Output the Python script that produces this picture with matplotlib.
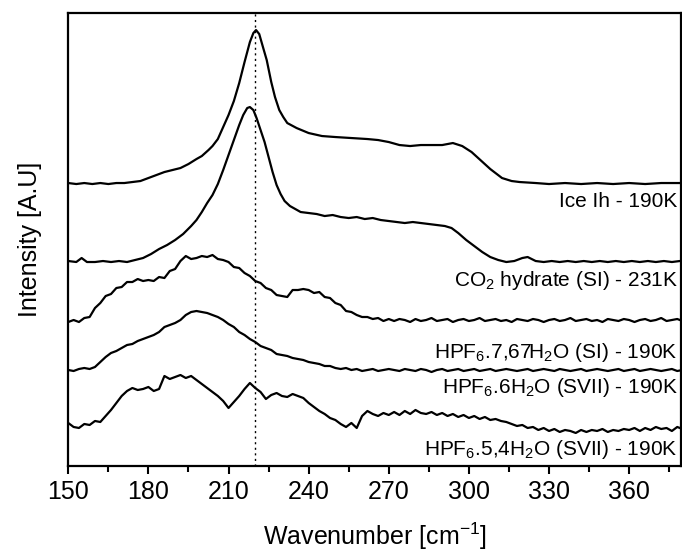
import matplotlib
matplotlib.use("Agg")
import matplotlib.pyplot as plt
import matplotlib.transforms as mtransforms
from matplotlib.ticker import MultipleLocator
import numpy as np

# Ice Ih - 190K
ice_wn = [150, 153, 156, 159, 162, 165, 168, 171, 174, 177, 180, 183, 186, 189, 192, 195,
          198, 200, 202.5, 204, 206, 208, 210, 212, 214, 216, 218, 219.3, 220.3, 221.5, 223,
          224.3, 226, 227.4, 229, 230.5, 232, 235.5, 240, 245, 250, 256, 262, 266, 270, 274,
          278, 282, 286, 290, 294, 297.5, 301, 304.3, 308, 312.4, 316, 319, 325, 330, 336,
          342, 348, 354, 360, 366, 372, 379]
ice_int = [283, 282, 283, 282, 283, 282, 283, 283, 284, 285, 288, 291, 294, 296, 298, 302,
           307, 310, 316, 320, 327, 339, 351, 365, 383, 404, 424, 433, 436, 432, 418,
           406, 384, 369, 356, 349, 343, 338, 333, 330, 329, 328, 327, 326, 324, 321,
           320, 321, 321, 321, 323, 320, 314, 306, 297, 288, 285, 284, 283, 282, 283,
           282, 283, 282, 283, 282, 283, 283]

# CO2 hydrate (SI) - 231K
co2_wn = [150, 153, 155, 157, 160, 163, 166, 169, 172, 175, 178, 181, 184, 187, 190, 193,
          196, 198, 200, 202, 204, 206, 208, 210, 212, 214, 215.5, 217, 218, 219.3, 220.5,
          222, 223.5, 225, 226.5, 228, 229.5, 231, 233, 235, 237, 240, 243, 246, 249, 252,
          255, 258, 261, 264, 267, 270, 273, 276, 279, 282, 285, 288, 291, 293.5, 296, 299,
          302, 305, 308, 311, 314, 317, 320, 322, 325, 328, 331, 334, 337, 340, 343, 346,
          349, 352, 355, 358, 361, 364, 367, 370, 373, 376, 379]
co2_int = [205, 204, 208, 204, 204, 205, 204, 205, 204, 206, 208, 212, 217, 221, 226, 232,
           240, 246, 254, 263, 271, 282, 296, 311, 326, 341, 351, 358, 359, 356, 348,
           336, 324, 309, 294, 281, 272, 265, 260, 257, 254, 253, 252, 250, 251, 249,
           248, 249, 247, 248, 246, 245, 244, 243, 244, 243, 242, 241, 240, 238, 233, 226,
           220, 214, 209, 206, 204, 205, 208, 209, 205, 204, 205, 204, 205, 204, 205, 204,
           205, 204, 205, 204, 205, 204, 205, 204, 205, 204, 205]

# the three HPF6 hydrates share one wavenumber grid
hpf_wn = np.arange(150, 382, 2)

hpf767_int = [144, 146, 144, 148, 149, 158, 163, 170,
              172, 178, 179, 184, 184, 187, 185, 186,
              185, 189, 188, 195, 197, 205, 210, 207,
              208, 210, 209, 211, 207, 206, 204, 199,
              198, 193, 190, 185, 183, 178, 176, 171,
              170, 169, 176, 176, 177, 176, 173, 174,
              169, 168, 163, 161, 155, 154, 151, 149,
              149, 147, 148, 145, 147, 145, 147, 146,
              144, 147, 145, 146, 148, 145, 146, 147,
              144, 146, 147, 145, 146, 148, 145, 146,
              147, 145, 146, 144, 147, 146, 145, 147,
              146, 144, 146, 147, 145, 146, 148, 145,
              146, 147, 145, 146, 144, 147, 146, 145,
              147, 146, 144, 146, 147, 145, 146, 148,
              145, 146, 147, 145]

hpf6_int = [96, 95, 97, 98, 97, 99, 104, 109,
            113, 115, 118, 121, 122, 125, 127, 129,
            131, 134, 139, 141, 143, 146, 151, 154,
            155, 154, 153, 151, 149, 146, 142, 139,
            134, 131, 127, 124, 120, 118, 116, 112,
            111, 110, 108, 107, 106, 104, 103, 102,
            100, 100, 98, 97, 98, 96, 97, 95,
            96, 97, 95, 96, 97, 96, 95, 97,
            96, 95, 97, 96, 94, 96, 97, 95,
            96, 97, 95, 96, 97, 95, 96, 97,
            95, 96, 97, 96, 95, 96, 97, 95,
            96, 97, 96, 95, 97, 96, 95, 96,
            97, 95, 96, 97, 96, 95, 96, 97,
            95, 96, 97, 95, 96, 97, 96, 95,
            96, 97, 95, 96]

hpf54_int = [43, 39, 38, 42, 41, 45, 44, 50,
             56, 63, 70, 75, 78, 76, 77, 79,
             75, 77, 90, 87, 89, 91, 88, 90,
             86, 82, 78, 74, 70, 65, 58, 64,
             70, 77, 83, 78, 74, 67, 71, 73,
             70, 69, 72, 70, 68, 63, 59, 55,
             52, 48, 46, 42, 39, 43, 38, 50,
             55, 52, 50, 53, 51, 54, 51, 55,
             52, 56, 53, 52, 54, 51, 53, 50,
             52, 49, 51, 48, 50, 47, 49, 46,
             47, 45, 44, 42, 40, 41, 38, 39,
             36, 38, 35, 37, 34, 36, 35, 33,
             36, 34, 36, 35, 37, 34, 36, 35,
             37, 36, 38, 35, 38, 36, 39, 37,
             38, 35, 39, 37]

labels = [
    "Ice Ih - 190K",
    "CO$_{2}$ hydrate (SI) - 231K",
    "HPF$_{6}$.7,67H$_{2}$O (SI) - 190K",
    "HPF$_{6}$.6H$_{2}$O (SVII) - 190K",
    "HPF$_{6}$.5,4H$_{2}$O (SVII) - 190K",
]
label_y = [259, 180, 108, 73, 11]

ref_line = 220


def main():
    plt.rcParams["font.family"] = ["Liberation Sans", "DejaVu Sans"]
    plt.rcParams["mathtext.fontset"] = "custom"
    plt.rcParams["mathtext.rm"] = "Liberation Sans"
    plt.rcParams["mathtext.it"] = "Liberation Sans"
    plt.rcParams["mathtext.default"] = "regular"

    fig = plt.figure(figsize=(6.82, 5.51), dpi=100)
    ax = fig.add_axes([0.1001, 0.1543, 0.898, 0.822])

    curves = [
        (ice_wn, ice_int),
        (co2_wn, co2_int),
        (hpf_wn, hpf767_int),
        (hpf_wn, hpf6_int),
        (hpf_wn, hpf54_int),
    ]
    for wn, inten in curves:
        ax.plot(wn, inten, color="black", lw=1.6, solid_joinstyle="round")

    ax.axvline(ref_line, color="black", lw=1.0, ls=(0, (1.5, 2.5)))

    trans = mtransforms.blended_transform_factory(ax.transAxes, ax.transData)
    for text, y in zip(labels, label_y):
        ax.text(0.995, y, text, transform=trans, ha="right", va="baseline", fontsize=15)

    ax.set_xlim(150, 379.3)
    ax.set_ylim(0, 453)
    ax.xaxis.set_major_locator(MultipleLocator(30))
    ax.xaxis.set_minor_locator(MultipleLocator(15))
    ax.tick_params(axis="x", which="major", direction="out", length=6, width=1.5,
                   labelsize=18, pad=4)
    ax.tick_params(axis="x", which="minor", direction="out", length=4, width=1.5)
    ax.set_yticks([])
    for sp in ax.spines.values():
        sp.set_linewidth(1.6)

    ax.set_xlabel("Wavenumber [cm$^{-1}$]", fontsize=18, labelpad=12)
    ax.set_ylabel("Intensity [A.U]", fontsize=18, labelpad=19)

    fig.savefig("out.png", dpi=100)


if __name__ == "__main__":
    main()
